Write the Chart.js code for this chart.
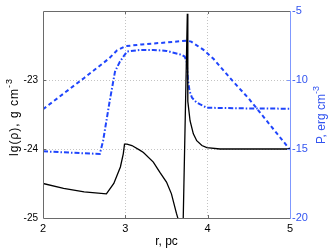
<!DOCTYPE html>
<html lang="en">
<head>
<meta charset="UTF-8" />
<title>Density and pressure profile</title>
<script src="https://cdn.jsdelivr.net/npm/chart.js@4.4.0/dist/chart.umd.min.js"></script>
<style>
  html, body { margin: 0; padding: 0; background: #fff; }
  #wrap { width: 332px; height: 249px; }
</style>
</head>
<body>
<div id="wrap"><canvas id="profChart" width="332" height="249"></canvas></div>
<script>
  // black curve: lg(rho) vs r
  const rhoR   = [2.00, 2.25, 2.50, 2.77, 2.86, 2.94, 2.975, 2.99, 3.02, 3.08, 3.18, 3.22, 3.34, 3.42, 3.50, 3.56, 3.62, 3.64, 3.67, 3.695, 3.753, 3.759, 3.786, 3.826, 3.867, 3.93, 3.99, 4.15, 4.50, 5.00];
  const rhoVal = [-24.50, -24.57, -24.62, -24.65, -24.50, -24.26, -24.07, -23.93, -23.93, -23.95, -24.02, -24.05, -24.19, -24.34, -24.48, -24.65, -24.93, -25.01, -25.5, -25.5, -22.04, -23.31, -23.59, -23.78, -23.88, -23.95, -23.98, -24.00, -24.00, -24.00];

  // blue dashed: pressure (first profile)
  const p1R   = [2.00, 2.50, 2.80, 2.90, 3.00, 3.20, 3.50, 3.75, 3.80, 3.95, 4.07, 4.30, 4.50, 5.00];
  const p1Val = [-12.12, -9.85, -8.45, -7.85, -7.55, -7.42, -7.28, -7.15, -7.22, -7.82, -8.46, -10.05, -11.35, -15.05];

  // blue dash-dot: pressure (second profile)
  const p2R   = [2.00, 2.35, 2.69, 2.73, 2.81, 2.875, 2.935, 3.02, 3.18, 3.34, 3.50, 3.685, 3.72, 3.745, 3.76, 3.78, 3.81, 3.86, 3.91, 3.99, 4.50, 5.00];
  const p2Val = [-15.17, -15.27, -15.36, -14.40, -11.53, -9.38, -8.66, -7.94, -7.82, -7.82, -7.89, -8.18, -8.30, -8.66, -10.0, -10.8, -11.29, -11.60, -11.77, -12.01, -12.06, -12.08];

  const xTicks = [2, 3, 4, 5];
  const leftTicks = [-25, -24, -23];
  const rightTicks = [-20, -15, -10, -5];

  const BLUE = '#1f45fc';
  const BLUE_TXT = '#3355f0';
  const FONT = 'Liberation Sans, Arial, sans-serif';

  function pts(xs, ys) {
    return xs.map((x, i) => ({ x: x, y: ys[i] }));
  }

  // frame, inner tick marks and rotated axis titles with superscripts
  const framePlugin = {
    id: 'frame',
    afterDraw(chart) {
      const ctx = chart.ctx;
      const a = chart.chartArea;
      const sx = chart.scales.x, sy = chart.scales.y, sy1 = chart.scales.y1;
      ctx.save();
      ctx.lineWidth = 1;
      ctx.strokeStyle = '#6a6a6a';
      ctx.beginPath();
      ctx.moveTo(a.right, a.top + 0.5); ctx.lineTo(a.left + 0.5, a.top + 0.5);
      ctx.lineTo(a.left + 0.5, a.bottom + 0.5); ctx.lineTo(a.right, a.bottom + 0.5);
      // inner ticks
      [3, 4].forEach(v => {
        const px = Math.round(sx.getPixelForValue(v)) + 0.5;
        ctx.moveTo(px, a.bottom); ctx.lineTo(px, a.bottom - 3);
        ctx.moveTo(px, a.top); ctx.lineTo(px, a.top + 3);
      });
      [-24, -23].forEach(v => {
        const py = Math.round(sy.getPixelForValue(v)) + 0.5;
        ctx.moveTo(a.left, py); ctx.lineTo(a.left + 3, py);
      });
      ctx.stroke();
      ctx.strokeStyle = '#7f98ff';
      ctx.beginPath();
      ctx.moveTo(a.right + 0.5, a.top); ctx.lineTo(a.right + 0.5, a.bottom + 1);
      [-15, -10].forEach(v => {
        const py = Math.round(sy1.getPixelForValue(v)) + 0.5;
        ctx.moveTo(a.right, py); ctx.lineTo(a.right - 3, py);
      });
      ctx.stroke();

      // x title
      ctx.fillStyle = '#000';
      ctx.font = '12px ' + FONT;
      ctx.textAlign = 'center';
      ctx.textBaseline = 'middle';
      ctx.fillText('r, pc', (a.left + a.right) / 2, 242);

      function vTitle(x, yc, main, sup, color, spacing) {
        ctx.save();
        ctx.translate(x, yc);
        ctx.rotate(-Math.PI / 2);
        ctx.fillStyle = color;
        ctx.letterSpacing = spacing;
        ctx.font = '12px ' + FONT;
        const w1 = ctx.measureText(main).width;
        ctx.font = '9px ' + FONT;
        const w2 = ctx.measureText(sup).width;
        const x0 = -(w1 + w2) / 2;
        ctx.textAlign = 'left';
        ctx.textBaseline = 'alphabetic';
        ctx.font = '12px ' + FONT;
        ctx.fillText(main, x0, 4);
        ctx.font = '9px ' + FONT;
        ctx.fillText(sup, x0 + w1, -2);
        ctx.restore();
      }
      vTitle(14, 117, 'lg(\u03c1), g cm', '-3', '#000', '1px');
      vTitle(321, 115, 'P, erg cm', '-3', BLUE_TXT, '0px');
      ctx.restore();
    }
  };

  const ctx = document.getElementById('profChart').getContext('2d');
  const myChart = new Chart(ctx, {
    type: 'line',
    data: {
      datasets: [
        {
          label: 'lg(rho)',
          data: pts(rhoR, rhoVal),
          yAxisID: 'y',
          borderColor: '#000',
          borderWidth: 1.3,
          pointRadius: 0,
          tension: 0
        },
        {
          label: 'P dashed',
          data: pts(p1R, p1Val),
          yAxisID: 'y1',
          borderColor: BLUE,
          borderWidth: 2,
          borderDash: [4, 3],
          pointRadius: 0,
          tension: 0
        },
        {
          label: 'P dash-dot',
          data: pts(p2R, p2Val),
          yAxisID: 'y1',
          borderColor: BLUE,
          borderWidth: 2,
          borderDash: [5, 2, 1.5, 2],
          pointRadius: 0,
          tension: 0
        }
      ]
    },
    options: {
      responsive: false,
      animation: false,
      devicePixelRatio: 1,
      layout: { padding: { left: 10, top: 9, right: 0, bottom: 0 } },
      plugins: { legend: { display: false }, tooltip: { enabled: false } },
      scales: {
        x: {
          type: 'linear',
          min: 2, max: 5,
          afterBuildTicks: s => { s.ticks = xTicks.map(v => ({ value: v })); },
          afterFit: s => { s.height = 31; },
          ticks: { color: '#000', font: { family: FONT, size: 11 }, padding: 4, maxRotation: 0 },
          grid: {
            drawTicks: false,
            lineWidth: 1,
            color: c => (c.tick && (c.tick.value === 3 || c.tick.value === 4)) ? '#c4c4c4' : 'rgba(0,0,0,0)'
          },
          border: { display: false, dash: [1, 2] }
        },
        y: {
          type: 'linear',
          position: 'left',
          min: -25, max: -22,
          afterBuildTicks: s => { s.ticks = leftTicks.map(v => ({ value: v })); },
          afterFit: s => { s.width = 33; },
          ticks: { color: '#000', font: { family: FONT, size: 10 }, padding: 5 },
          grid: {
            drawTicks: false,
            lineWidth: 1,
            color: c => (c.tick && (c.tick.value === -24 || c.tick.value === -23)) ? '#c4c4c4' : 'rgba(0,0,0,0)'
          },
          border: { display: false, dash: [1, 2] }
        },
        y1: {
          type: 'linear',
          position: 'right',
          min: -20, max: -5,
          afterBuildTicks: s => { s.ticks = rightTicks.map(v => ({ value: v })); },
          afterFit: s => { s.width = 42; },
          ticks: { color: BLUE_TXT, font: { family: FONT, size: 11 }, padding: 2 },
          grid: { drawOnChartArea: false, drawTicks: false },
          border: { display: false }
        }
      }
    },
    plugins: [framePlugin]
  });
</script>
</body>
</html>
